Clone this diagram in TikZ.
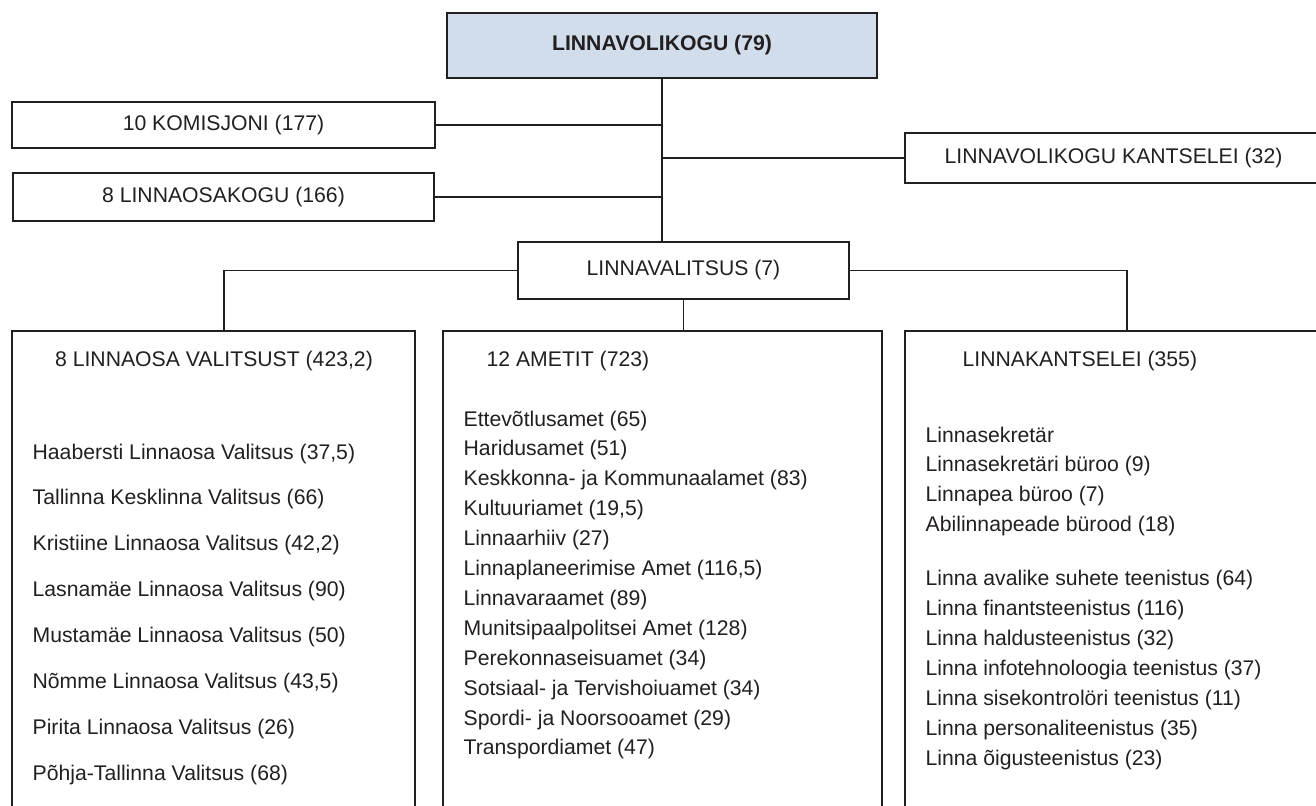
\documentclass[tikz,border=0pt]{standalone}
\usepackage{fontspec}
\setmainfont{Liberation Sans}
\usetikzlibrary{positioning}
\definecolor{volblue}{HTML}{D1DDEB}
\definecolor{ink}{HTML}{231F20}
\newcommand{\orgfont}{\fontsize{10.6}{12.7}\selectfont}

\begin{document}
\begin{tikzpicture}[x=0.5pt, y=-0.5pt, line width=0.65pt, color=ink,
  every node/.style={font=\orgfont, inner sep=0pt},
  box/.style={draw, rectangle},
  item/.style={anchor=base west}]
  \useasboundingbox (0,0) rectangle (1316,805);

  % council and its bodies
  \node[box, fill=volblue, line width=1pt, minimum width=215pt, minimum height=32.5pt, font=\orgfont\bfseries] (vol) at (662,45.5) {LINNAVOLIKOGU (79)};
  \node[box, minimum width=211.5pt, minimum height=23pt] (kom) at (223.5,125) {10 KOMISJONI (177)};
  \node[box, minimum width=210.5pt, minimum height=24pt] (osak) at (223.5,197) {8 LINNAOSAKOGU (166)};
  \node[box, minimum width=208.5pt, minimum height=25pt] (vkant) at (1113.5,158) {LINNAVOLIKOGU KANTSELEI (32)};
  \node[box, minimum width=165.5pt, minimum height=28.5pt] (valits) at (683.5,270.5) {LINNAVALITSUS (7)};

  % lower level
  \node[box, minimum width=201.5pt, minimum height=249.5pt] (lov) at (213.5,580.5) {};
  \node[box, minimum width=219.5pt, minimum height=249.5pt] (amet) at (662.5,580.5) {};
  \node[box, minimum width=208.5pt, minimum height=249.5pt] (lk) at (1113.5,580.5) {};

  \draw (vol.south) -- (vol.south |- valits.north);
  \draw (kom.east) -- (kom.east -| vol.south);
  \draw (osak.east) -- (osak.east -| vol.south);
  \draw (vkant.west) -- (vkant.west -| vol.south);
  \draw (valits.west) -| ([xshift=5.25pt]lov.north);
  \draw (valits.east) -| ([xshift=6.75pt]lk.north);
  \draw (valits.south) -- (valits.south |- amet.north);

  % headings
  \node[anchor=base] (lovhead) at (214,366) {8 LINNAOSA VALITSUST (423,2)};
  \node[item] (amethead) at (486,366) {12 AMETIT (723)};
  \node[item] (lkhead) at (962,366) {LINNAKANTSELEI (355)};

  % district governments
  \foreach \t [count=\i] in {{Haabersti Linnaosa Valitsus (37,5)}, {Tallinna Kesklinna Valitsus (66)},
      {Kristiine Linnaosa Valitsus (42,2)}, {Lasnamäe Linnaosa Valitsus (90)},
      {Mustamäe Linnaosa Valitsus (50)}, {Nõmme Linnaosa Valitsus (43,5)},
      {Pirita Linnaosa Valitsus (26)}, {Põhja-Tallinna Valitsus (68)}}
    \node[item] (lov\i) at (32,{459+45.9*(\i-1)}) {\t};

  % departments
  \foreach \t [count=\i] in {{Ettevõtlusamet (65)}, {Haridusamet (51)}, {Keskkonna- ja Kommunaalamet (83)},
      {Kultuuriamet (19,5)}, {Linnaarhiiv (27)}, {Linnaplaneerimise Amet (116,5)}, {Linnavaraamet (89)},
      {Munitsipaalpolitsei Amet (128)}, {Perekonnaseisuamet (34)}, {Sotsiaal- ja Tervishoiuamet (34)},
      {Spordi- ja Noorsooamet (29)}, {Transpordiamet (47)}}
    \node[item] (amet\i) at (463,{426+29.9*(\i-1)}) {\t};

  % city office
  \foreach \t [count=\i] in {Linnasekretär, {Linnasekretäri büroo (9)}, {Linnapea büroo (7)},
      {Abilinnapeade bürood (18)}}
    \node[item] (lk\i) at (925,{442+29.7*(\i-1)}) {\t};
  \foreach \t [count=\i] in {{Linna avalike suhete teenistus (64)}, {Linna finantsteenistus (116)},
      {Linna haldusteenistus (32)}, {Linna infotehnoloogia teenistus (37)},
      {Linna sisekontrolöri teenistus (11)}, {Linna personaliteenistus (35)}, {Linna õigusteenistus (23)}}
    \node[item] (lt\i) at (925,{585+30*(\i-1)}) {\t};
\end{tikzpicture}
\end{document}
